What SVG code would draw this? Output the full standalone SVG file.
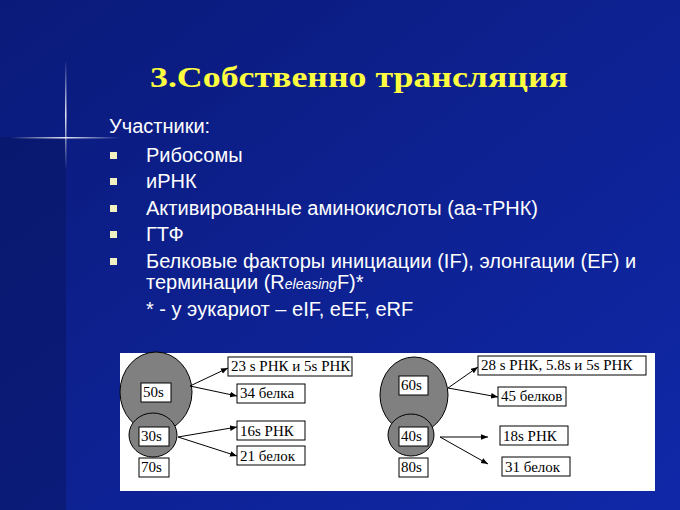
<svg xmlns="http://www.w3.org/2000/svg" width="680" height="510" viewBox="0 0 680 510">
<defs>
<linearGradient id="bg" x1="0" y1="0" x2="1" y2="1"><stop offset="0" stop-color="#0a1a7a"/><stop offset="1" stop-color="#1028a8"/></linearGradient>
<linearGradient id="vl" x1="0" y1="0" x2="0" y2="1"><stop offset="0" stop-color="#fff" stop-opacity="0"/><stop offset="0.5" stop-color="#fff" stop-opacity="0.9"/><stop offset="1" stop-color="#fff" stop-opacity="0"/></linearGradient>
<linearGradient id="hl" x1="0" y1="0" x2="1" y2="0"><stop offset="0" stop-color="#fff" stop-opacity="0"/><stop offset="0.5" stop-color="#fff" stop-opacity="0.9"/><stop offset="1" stop-color="#fff" stop-opacity="0"/></linearGradient>
<marker id="ah" viewBox="0 0 10 10" refX="10" refY="5" markerWidth="7" markerHeight="7" orient="auto"><path d="M0,1 L10,5 L0,9 z" fill="#000"/></marker>
<style>
.ti{font-family:"Liberation Serif","Times New Roman",serif;font-weight:bold;font-size:29px;fill:#ffff40}
.t{font-family:"Liberation Sans",Arial,sans-serif;fill:#fff;font-size:20px}
.s{font-family:"Liberation Serif","Times New Roman",serif;fill:#000;font-size:15px}
.b{fill:#fff;stroke:#000;stroke-width:1}
.c{fill:#808080;stroke:#000;stroke-width:1}
.bul{fill:#f0f0c0}
.a{stroke:#000;stroke-width:1;fill:none;marker-end:url(#ah)}
</style>
</defs>
<rect width="680" height="510" fill="url(#bg)"/>
<rect x="0" y="137" width="66" height="373" fill="#08145e" opacity="0.5"/>
<rect x="65" y="60" width="1.5" height="110" fill="url(#vl)"/>
<rect x="10" y="137" width="110" height="1.5" fill="url(#hl)"/>
<text x="359" y="87" text-anchor="middle" class="ti" textLength="418" lengthAdjust="spacingAndGlyphs">3.Собственно трансляция</text>
<text x="109" y="133" class="t">Участники:</text>
<g class="bul"><rect x="110" y="152" width="7" height="7"/><rect x="110" y="178" width="7" height="7"/><rect x="110" y="205" width="7" height="7"/><rect x="110" y="231" width="7" height="7"/><rect x="110" y="258" width="7" height="7"/></g>
<text x="146" y="162" class="t">Рибосомы</text>
<text x="146" y="188" class="t">иРНК</text>
<text x="146" y="215" class="t">Активированные аминокислоты (аа-тРНК)</text>
<text x="146" y="241" class="t">ГТФ</text>
<text x="146" y="268" class="t">Белковые факторы инициации (IF), элонгации (EF) и</text>
<text x="146" y="289" class="t">терминации (R<tspan font-style="italic" font-size="14">eleasing</tspan>F)*</text>
<text x="146" y="316" class="t" font-size="16.5">* - у эукариот – eIF, eEF, eRF</text>
<rect x="120" y="353" width="535" height="138" fill="#fff"/>
<g id="left">
<ellipse cx="156" cy="392" rx="36" ry="40" class="c"/>
<ellipse cx="153" cy="435" rx="24" ry="22" class="c"/>
<g id="n50"><rect x="141" y="383" width="30" height="19" class="b"/><text x="143" y="397" class="s">50s</text></g>
<g id="n30"><rect x="139" y="427" width="30" height="19" class="b"/><text x="141" y="441" class="s">30s</text></g>
<g id="n70"><rect x="139" y="458" width="30" height="19" class="b"/><text x="141" y="472" class="s">70s</text></g>
<g id="n23"><rect x="228" y="357" width="124" height="19" class="b"/><text x="231" y="371" class="s">23 s РНК и 5s РНК</text></g>
<g id="n34"><rect x="237" y="384" width="68" height="19" class="b"/><text x="240" y="398" class="s">34 белка</text></g>
<g id="n16"><rect x="237" y="421" width="68" height="19" class="b"/><text x="240" y="436" class="s">16s РНК</text></g>
<g id="n21"><rect x="237" y="446" width="68" height="19" class="b"/><text x="240" y="461" class="s">21 белок</text></g>
</g>
<g id="right">
<ellipse cx="414" cy="395" rx="34" ry="38" class="c"/>
<ellipse cx="411" cy="435" rx="23" ry="21" class="c"/>
<g id="n60"><rect x="399" y="376" width="29" height="19" class="b"/><text x="401" y="390" class="s">60s</text></g>
<g id="n40"><rect x="399" y="427" width="29" height="19" class="b"/><text x="401" y="441" class="s">40s</text></g>
<g id="n80"><rect x="399" y="458" width="29" height="19" class="b"/><text x="401" y="472" class="s">80s</text></g>
<g id="n28"><rect x="478" y="356" width="168" height="19" class="b"/><text x="481" y="370" class="s">28 s РНК, 5.8s и 5s РНК</text></g>
<g id="n45"><rect x="498" y="387" width="68" height="19" class="b"/><text x="501" y="401" class="s">45 белков</text></g>
<g id="n18"><rect x="500" y="426" width="68" height="19" class="b"/><text x="503" y="441" class="s">18s РНК</text></g>
<g id="n31"><rect x="502" y="457" width="68" height="19" class="b"/><text x="505" y="472" class="s">31 белок</text></g>
</g>
<g id="connectors">
<line x1="190" y1="386" x2="228" y2="368" class="a"/>
<line x1="190" y1="386" x2="237" y2="396" class="a"/>
<line x1="178" y1="437" x2="237" y2="427" class="a"/>
<line x1="178" y1="437" x2="237" y2="456" class="a"/>
<line x1="448" y1="388" x2="478" y2="367" class="a"/>
<line x1="448" y1="388" x2="498" y2="397" class="a"/>
<line x1="440" y1="437" x2="488" y2="437" class="a"/>
<line x1="440" y1="437" x2="488" y2="464" class="a"/>
</g>
</svg>
